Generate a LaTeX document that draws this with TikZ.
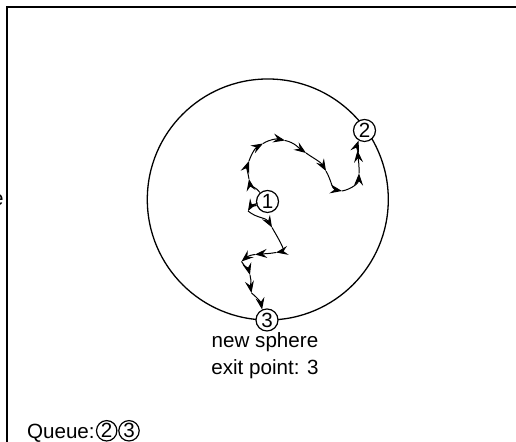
\documentclass[tikz,border=0pt]{standalone}
\usepackage{fontspec}
\setmainfont{Liberation Sans}
\usetikzlibrary{arrows.meta}
\begin{document}
\begin{tikzpicture}[x=0.5pt,y=0.5pt,
  font=\fontsize{10.3}{13.5}\selectfont,
  frame/.style={line width=0.6pt},
  sphere/.style={circle,draw,line width=0.65pt,minimum size=120.5pt,inner sep=0pt},
  pt/.style={circle,draw,fill=white,line width=0.6pt,inner sep=0pt,minimum size=11pt,font=\fontsize{10.3}{12}\selectfont},
  qpt/.style={pt,minimum size=10.2pt},
  walk/.style={line width=0.5pt,-{Stealth[length=6pt,width=4.5pt,inset=2.2pt]}},
]
\useasboundingbox (0,0) rectangle (516,442);
\draw[frame] (7,0) -- (7,435) -- (516,435);
\node[anchor=base east,inner sep=0pt] (frag) at (4,236) {e};
\node[sphere] (sph) at (267.8,242.5) {};
\node[pt] (n1) at (267.5,240.5) {1};
\node[pt] (n2) at (364.5,311.5) {2};
\node[pt] (n3) at (267,122) {3};
% walk to 2
\coordinate (a1) at (249,263);
\coordinate (a2) at (249,281);
\coordinate (a3) at (263,298.5);
\coordinate (a4) at (285,301.5);
\coordinate (a5) at (306,289);
\coordinate (a6) at (326,271);
\coordinate (a7) at (342,251);
\coordinate (a8) at (359,268.5);
\coordinate (a9) at (357.5,291.5);
\draw[walk] (n1.130) to[out=125,in=-80] (a1);
\draw[walk] (a1) to[out=100,in=-110] (a2);
\draw[walk] (a2) to[out=70,in=-150] (a3);
\draw[walk] (a3) to[out=30,in=168] (a4);
\draw[walk] (a4) to[out=-12,in=145] (a5);
\draw[walk] (a5) to[out=-35,in=120] (a6);
\draw[walk] (a6) to[out=-60,in=170] (a7);
\draw[walk] (a7) to[out=10,in=-92] (a8);
\draw[walk] (a8) to[out=88,in=-85] (a9);
\draw[walk] (a9) to[out=95,in=-110] (n2.-120);
% walk to 3
\coordinate (b1) at (248,231);
\coordinate (b2) at (272,214.5);
\coordinate (b3) at (276,189.5);
\coordinate (b4) at (255,187.5);
\coordinate (b5) at (241.5,180.5);
\coordinate (b6) at (250,167);
\coordinate (b7) at (251.5,149);
\draw[walk] (n1.200) to[out=190,in=60] (b1);
\draw[walk] (b1) to[out=-40,in=120] (b2);
\draw[walk] (b2) to[out=-60,in=10] (b3);
\draw[walk] (b3) to[out=190,in=5] (b4);
\draw[walk] (b4) to[out=185,in=40] (b5);
\draw[walk] (b5) to[out=-60,in=105] (b6);
\draw[walk] (b6) to[out=-75,in=100] (b7);
\draw[walk] (b7) to[out=-40,in=100] (n3.115);
\node[align=center,anchor=north,inner sep=0pt] (lbl) at (265,109.5) {new sphere\\exit point: 3};
\node[anchor=base west,inner sep=0pt] (queue) at (26.7,3.7) {Queue:};
\node[qpt] (q2) at (106.7,11.2) {2};
\node[qpt] (q3) at (129,11.2) {3};
\end{tikzpicture}
\end{document}
